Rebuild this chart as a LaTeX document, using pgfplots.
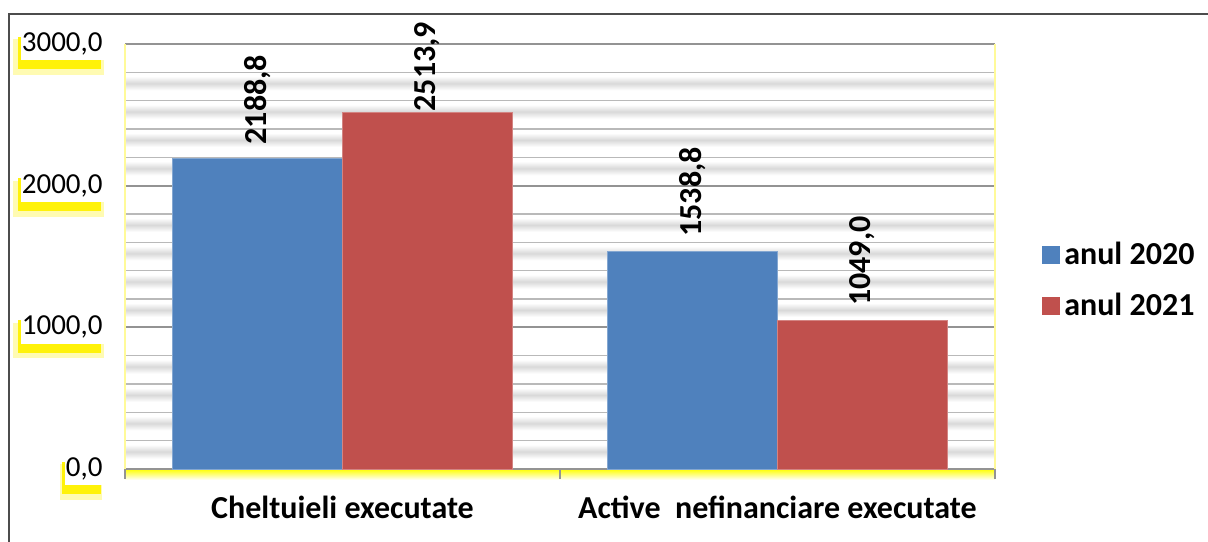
\documentclass[border=0pt]{standalone}
\usepackage{pgfplots}
\pgfplotsset{compat=1.18}
\usepackage{fontspec}
\setmainfont{Carlito}
\usetikzlibrary{shadows}
\definecolor{bblue}{HTML}{4F81BD}
\definecolor{bred}{HTML}{C0504D}

\begin{document}
\begin{tikzpicture}
\begin{axis}[
  name=ax, at={(62.5pt,36pt)}, anchor=south west,
  width=435pt, height=212.5pt, scale only axis,
  set layers, clip=false,
  ybar=0pt, bar width=85pt,
  xmin=-0.5, xmax=1.5, ymin=0, ymax=3000,
  xtick={0,1},
  xticklabels={Cheltuieli executate, Active\ \ nefinanciare executate},
  minor xtick={-0.5,0.5,1.5},
  ytick={0,1000,2000,3000},
  minor ytick={200,400,600,800,1200,1400,1600,1800,2200,2400,2600,2800},
  ymajorgrids, yminorgrids,
  major grid style={gray!85, line width=1pt},
  minor grid style={gray!55, line width=0.6pt},
  separate axis lines,
  x axis line style={gray!85, line width=1pt},
  y axis line style={yellow!40, line width=0.6pt},
  tick align=outside, xtick pos=lower, ytick pos=left,
  major tick length=0pt, minor tick length=5pt,
  minor x tick style={gray!85, line width=1pt},
  ytick style={draw=none},
  /pgf/number format/.cd, fixed, fixed zerofill, precision=1, use comma, 1000 sep={}, assume math mode=true,
  /pgfplots/.cd,
  yticklabel style={font=\fontsize{14.5}{14.5}\selectfont, fill=white, inner xsep=0.5pt, inner ysep=2.5pt,
    xshift=-10.5pt,
    drop shadow={fill=yellow, opacity=0.3, shadow scale=1.1, shadow xshift=-1.5pt, shadow yshift=-6pt},
    drop shadow={fill=yellow, opacity=0.95, shadow xshift=-1.5pt, shadow yshift=-4.5pt}},
  xticklabel style={font=\bfseries\fontsize{16}{16}\selectfont, anchor=base, yshift=-24.5pt},
  visualization depends on={rawy \as \rawy},
  nodes near coords={\ifdim\rawy pt>2500pt\hspace*{-6.5pt}\fi\bfseries\fontsize{16}{16}\selectfont\pgfmathprintnumber{\pgfplotspointmeta}},
  every node near coord/.append style={rotate=90, anchor=west, inner sep=7pt, black},
  legend style={at={(rel axis cs:1.047,0.4435)}, anchor=west, draw=none, fill=none,
    font=\bfseries\fontsize{16}{16}\selectfont, row sep=9pt},
  legend cell align=left,
  legend image code/.code={\fill[#1, draw=none] (0pt,-4.5pt) rectangle (9pt,4.5pt);},
]
\begin{pgfonlayer}{axis background}
\pgfplotsinvokeforeach{200,400,600,800,1200,1400,1600,1800,2200,2400,2600,2800}{
  \fill[top color=white, bottom color=white, middle color=black!15]
    ([yshift=-2pt]axis cs:-0.5,#1) rectangle ([yshift=-9pt]axis cs:1.5,#1);
}
\fill[top color=yellow, bottom color=white]
  (axis cs:-0.5,0) rectangle ([yshift=-5.5pt]axis cs:1.5,0);
\end{pgfonlayer}
\addplot[fill=bblue, draw=bblue!70!white, line width=0.5pt] coordinates {(0,2188.8) (1,1538.8)};
\addplot[fill=bred, draw=bred!70!white, line width=0.5pt] coordinates {(0,2513.9) (1,1049.0)};
\legend{anul 2020, anul 2021}
\end{axis}
\draw[line width=1pt, black!70] (4.5pt,-2pt) -- (4.5pt,263.5pt) -- (606pt,263.5pt);
\pgfresetboundingbox
\path[use as bounding box] (0,0) rectangle (604pt,270.5pt);
\end{tikzpicture}
\end{document}
